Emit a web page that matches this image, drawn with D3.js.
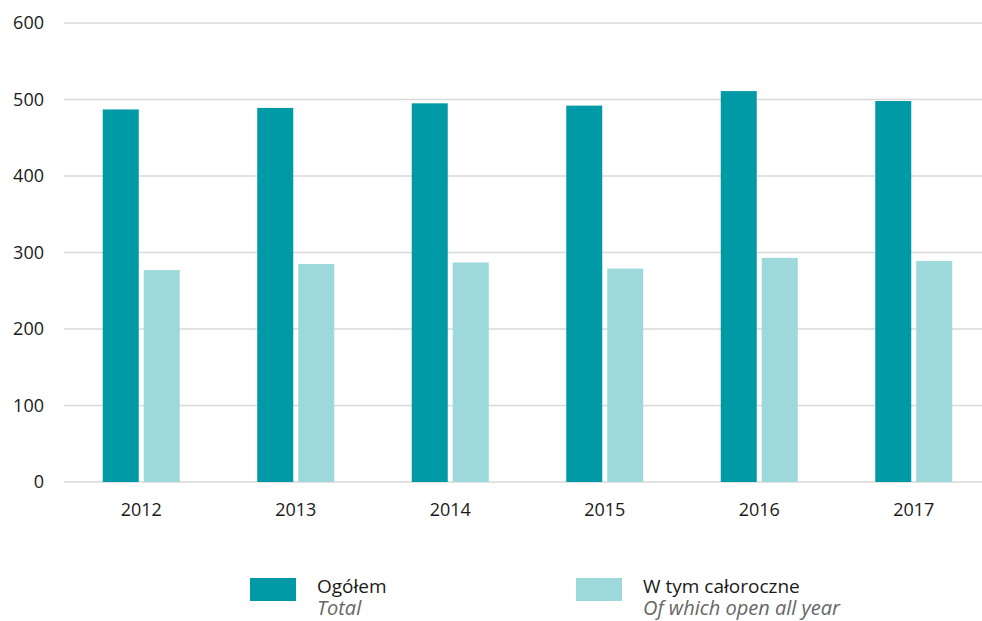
<!DOCTYPE html>
<html>
<head>
<meta charset="utf-8">
<script src="https://cdn.jsdelivr.net/npm/d3@7"></script>
<style>
  body { margin: 0; background: #fff; }
  svg { display: block; }
</style>
</head>
<body>
<div id="chart"></div>
<script>
// values
const years = ["2012", "2013", "2014", "2015", "2016", "2017"];
const total = [487, 489, 495, 492, 511, 498];
const allYear = [277, 285, 287, 279, 293, 289];
const seriesNames = ["total", "allYear"];
const yTicks = [0, 100, 200, 300, 400, 500, 600];

const width = 982, height = 621;
const margin = { top: 23, right: -9, bottom: 139, left: 64 };

const svg = d3.select("#chart").append("svg")
    .attr("width", width)
    .attr("height", height);

const x0 = d3.scaleBand()
    .domain(years)
    .range([margin.left, width - margin.right])
    .padding(0);

const x1 = d3.scaleBand()
    .domain(seriesNames)
    .range([0, 77])
    .paddingInner(0.122);

const y = d3.scaleLinear()
    .domain([0, 600])
    .range([height - margin.bottom, margin.top]);

const colors = { total: "#0099a6", allYear: "#9dd8db" };
const font = "'Open Sans', sans-serif";

// gridlines
svg.append("g")
    .selectAll("line")
    .data(yTicks)
    .join("line")
    .attr("x1", margin.left)
    .attr("x2", width)
    .attr("y1", d => y(d))
    .attr("y2", d => y(d))
    .attr("stroke", "#d9d9d9")
    .attr("stroke-width", 1.5);

// y labels
svg.append("g")
    .selectAll("text")
    .data(yTicks)
    .join("text")
    .attr("x", 44)
    .attr("y", d => y(d))
    .attr("dy", "0.35em")
    .attr("text-anchor", "end")
    .style("font-family", font)
    .style("font-size", "18px")
    .style("fill", "#1a1a1a")
    .text(d => d);

// bars
const rows = years.map((yr, i) => ({ year: yr, total: total[i], allYear: allYear[i] }));

const groups = svg.append("g")
    .selectAll("g")
    .data(rows)
    .join("g")
    .attr("transform", d => `translate(${x0(d.year) + (x0.bandwidth() - 77) / 2},0)`);

groups.selectAll("rect")
    .data(d => seriesNames.map(k => ({ key: k, value: d[k] })))
    .join("rect")
    .attr("x", d => x1(d.key))
    .attr("width", x1.bandwidth())
    .attr("y", d => y(d.value))
    .attr("height", d => y(0) - y(d.value))
    .attr("fill", d => colors[d.key]);

// x labels
svg.append("g")
    .selectAll("text")
    .data(years)
    .join("text")
    .attr("x", d => x0(d) + x0.bandwidth() / 2)
    .attr("y", 516)
    .attr("text-anchor", "middle")
    .style("font-family", font)
    .style("font-size", "18px")
    .style("fill", "#1a1a1a")
    .text(d => d);

// legend
const legendItems = [
    { key: "total", pl: "Ogółem", en: "Total", x: 250 },
    { key: "allYear", pl: "W tym całoroczne", en: "Of which open all year", x: 576 }
];

const legend = svg.append("g")
    .selectAll("g")
    .data(legendItems)
    .join("g")
    .attr("transform", d => `translate(${d.x},578)`);

legend.append("rect")
    .attr("width", 46)
    .attr("height", 23)
    .attr("fill", d => colors[d.key]);

legend.append("text")
    .attr("x", 67)
    .attr("y", 15)
    .style("font-family", font)
    .style("font-size", "19px")
    .style("fill", "#1a1a1a")
    .text(d => d.pl);

legend.append("text")
    .attr("x", 67)
    .attr("y", 37)
    .style("font-family", font)
    .style("font-size", "20px")
    .style("font-style", "italic")
    .style("fill", "#666")
    .text(d => d.en);
</script>
</body>
</html>
